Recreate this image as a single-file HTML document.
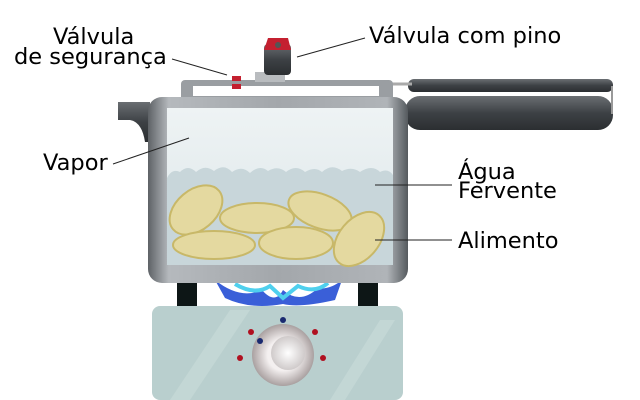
<!DOCTYPE html>
<html><head><meta charset="utf-8"><style>
html,body{margin:0;padding:0;background:#fff;}
svg{display:block}
text{font-family:"DejaVu Sans","Liberation Sans",sans-serif;font-size:22.5px;fill:#000}
</style></head><body>
<svg width="640" height="400" viewBox="0 0 640 400" xmlns="http://www.w3.org/2000/svg">
<defs>
<linearGradient id="pot" x1="0" x2="1" y1="0" y2="0">
<stop offset="0" stop-color="#5e6266"/><stop offset="0.08" stop-color="#b5b9bd"/><stop offset="0.5" stop-color="#a3a7ab"/><stop offset="0.92" stop-color="#b0b4b8"/><stop offset="1" stop-color="#555a5e"/></linearGradient>
<linearGradient id="dark" x1="0" x2="0" y1="0" y2="1"><stop offset="0" stop-color="#6a6e72"/><stop offset="0.5" stop-color="#3d4145"/><stop offset="1" stop-color="#2b2e31"/></linearGradient>
<linearGradient id="vap" x1="0" x2="0" y1="0" y2="1"><stop offset="0" stop-color="#eef3f4"/><stop offset="1" stop-color="#dce6e9"/></linearGradient>
<radialGradient id="knob"><stop offset="0.5" stop-color="#f4f0f0"/><stop offset="1" stop-color="#a9a0a0"/></radialGradient>
<radialGradient id="kin"><stop offset="0" stop-color="#fff"/><stop offset="1" stop-color="#cfcaca"/></radialGradient>
</defs>
<rect x="408" y="79" width="205" height="13" rx="6" fill="url(#dark)"/>
<rect x="405" y="96" width="208" height="34" rx="15" fill="url(#dark)"/>
<line x1="612" y1="86" x2="612" y2="114" stroke="#999" stroke-width="2"/>
<line x1="392" y1="84" x2="412" y2="84" stroke="#aaa" stroke-width="3"/>
<path d="M118 102 H150 V142 H145 Q142 122 130 120 H118 Z" fill="url(#dark)"/>
<rect x="181" y="80" width="212" height="22" rx="4" fill="#9a9ea2"/>
<rect x="193" y="86" width="186" height="10" fill="#fff"/>
<rect x="255" y="72" width="30" height="10" fill="#b9bcbf"/>
<rect x="264" y="44" width="27" height="31" rx="4" fill="url(#dark)"/>
<path d="M264 50 L268 38 H288 L291 50 Z" fill="#c42030"/>
<circle cx="278" cy="45" r="3" fill="#555"/>
<rect x="232" y="76" width="9" height="5" fill="#c42030"/><rect x="232" y="84" width="9" height="5" fill="#c42030"/>
<rect x="177" y="278" width="20" height="30" fill="#0d1616"/>
<rect x="358" y="278" width="20" height="30" fill="#0d1616"/>
<path d="M215 280 Q240 300 262 290 Q275 305 283 290 Q300 305 318 288 Q330 290 342 280 L335 300 Q300 308 283 304 Q250 310 225 298 Z" fill="#3a5fd8"/>
<path d="M235 284 Q255 296 270 286 L283 298 L298 286 Q315 294 328 283" stroke="#4fd0ee" stroke-width="4" fill="none"/>
<rect x="148" y="97" width="260" height="186" rx="14" fill="url(#pot)"/>
<rect x="167" y="108" width="226" height="157" fill="url(#vap)"/>
<path d="M167 178 Q172 168 180 172 Q188 164 196 172 Q205 164 214 171 Q224 163 232 172 Q242 165 250 173 Q260 164 268 171 Q278 165 286 172 Q296 164 305 172 Q315 166 322 172 Q332 163 342 171 Q352 166 360 172 Q372 164 380 172 Q388 168 393 175 V265 H167 Z" fill="#c8d6da"/>
<g fill="#e4d9a0" stroke="#c8b868" stroke-width="2">
<ellipse cx="196" cy="210" rx="30" ry="20" transform="rotate(-40 196 210)"/>
<ellipse cx="257" cy="218" rx="37" ry="15"/>
<ellipse cx="320" cy="211" rx="33" ry="17" transform="rotate(20 320 211)"/>
<ellipse cx="214" cy="245" rx="41" ry="14"/>
<ellipse cx="296" cy="243" rx="37" ry="16"/>
<ellipse cx="359" cy="239" rx="31" ry="20" transform="rotate(-50 359 239)"/>
</g>
<rect x="152" y="306" width="251" height="94" rx="8" fill="#b9cfce"/>
<path d="M170 400 L230 310 H250 L190 400 Z" fill="#c9dcdb" opacity="0.6"/>
<path d="M330 400 L380 320 H395 L345 400 Z" fill="#c9dcdb" opacity="0.6"/>
<circle cx="283" cy="355" r="31" fill="url(#knob)"/>
<circle cx="288" cy="353" r="17" fill="url(#kin)"/>
<g fill="#b01020"><circle cx="251" cy="332" r="3"/><circle cx="315" cy="332" r="3"/><circle cx="240" cy="358" r="3"/><circle cx="323" cy="358" r="3"/></g>
<g fill="#1a2a70"><circle cx="283" cy="320" r="3"/><circle cx="260" cy="341" r="3"/></g>
<text x="53" y="44">Válvula</text>
<text x="14" y="64">de segurança</text>
<line x1="172" y1="59" x2="227" y2="75" stroke="#222" stroke-width="1"/>
<text x="369" y="43">Válvula com pino</text>
<line x1="297" y1="57" x2="365" y2="38" stroke="#222" stroke-width="1"/>
<text x="43" y="170">Vapor</text>
<line x1="113" y1="164" x2="189" y2="138" stroke="#222" stroke-width="1"/>
<text x="458" y="179">Água</text>
<text x="458" y="198">Fervente</text>
<line x1="375" y1="185" x2="452" y2="185" stroke="#222" stroke-width="1"/>
<text x="458" y="248">Alimento</text>
<line x1="375" y1="240" x2="452" y2="240" stroke="#222" stroke-width="1"/>
</svg>
</body></html>
